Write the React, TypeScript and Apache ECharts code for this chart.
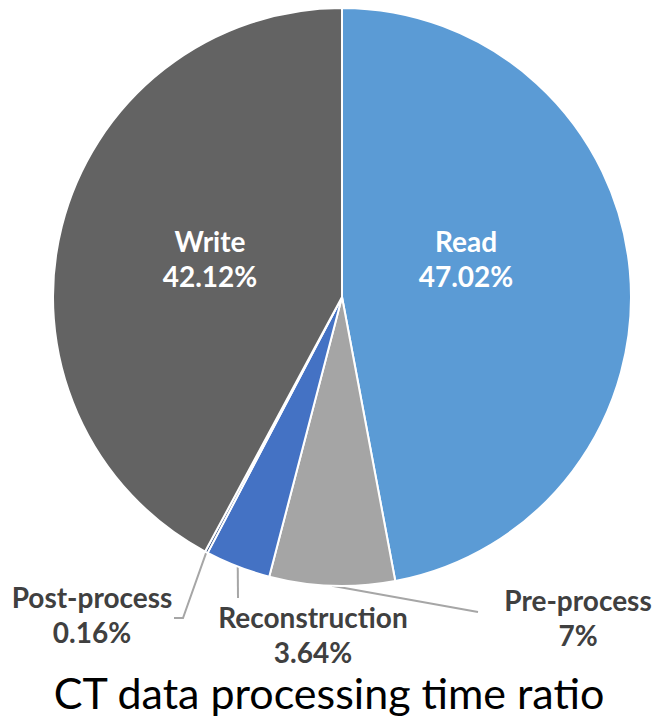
import React, { useEffect, useRef } from "react";
import * as echarts from "echarts";

// Share of total CT processing time per stage, in percent
const stages = ["Read", "Pre-process", "Reconstruction", "Post-process", "Write"];
const shares = [47.02, 7, 3.64, 0.16, 42.12];
const sliceColors = ["#5B9BD5", "#A5A5A5", "#4472C4", "#264478", "#636363"];
const insideLabel = [true, false, false, false, true];
const chartTitle = "CT data processing time ratio";

// Label block centres and leader-line elbows (pixels)
const labelCentres: [number, number][] = [
  [466, 258],
  [578, 617],
  [313, 634],
  [92, 614],
  [210, 258],
];
const leaderTails: [number, number][][] = [
  [],
  [[478, 612]],
  [[238, 598]],
  [[183, 618], [174, 618]],
  [],
];

export default function App() {
  const ref = useRef<HTMLDivElement>(null);

  useEffect(() => {
    document.body.style.margin = "0";
    if (!ref.current) return;
    const chart = echarts.init(ref.current, null, { renderer: "svg" });

    const data = stages.map((name, i) => ({
      name,
      value: shares[i],
      itemStyle: { color: sliceColors[i] },
      label: insideLabel[i]
        ? { position: "inside", color: "#FFFFFF" }
        : { position: "outside", color: "#404040" },
      labelLine: { show: !insideLabel[i] },
    }));

    chart.setOption({
      animation: false,
      title: {
        text: chartTitle,
        left: "center",
        top: 671,
        padding: 0,
        textStyle: {
          fontFamily: "Lato",
          fontWeight: "normal",
          fontSize: 43,
          lineHeight: 43,
          color: "#000000",
        },
      },
      series: [
        {
          type: "pie",
          center: [342, 297],
          radius: 289,
          startAngle: 90,
          clockwise: true,
          avoidLabelOverlap: false,
          itemStyle: { borderColor: "#FFFFFF", borderWidth: 2 },
          label: {
            formatter: "{b}\n{c}%",
            fontFamily: "Lato",
            fontWeight: "bold",
            fontSize: 28,
            lineHeight: 35,
            align: "center",
          },
          labelLine: {
            lineStyle: { color: "#A6A6A6", width: 2 },
          },
          labelLayout: (params: any) => {
            const i = params.dataIndex;
            const [x, y] = labelCentres[i];
            const out: any = { x, y, align: "center", verticalAlign: "middle" };
            const pts = params.labelLinePoints;
            if (!insideLabel[i] && pts && pts.length) {
              out.labelLinePoints = [pts[0], ...leaderTails[i]];
            }
            return out;
          },
          data,
        },
      ],
    });

    return () => chart.dispose();
  }, []);

  return <div ref={ref} style={{ width: 658, height: 723 }} />;
}
